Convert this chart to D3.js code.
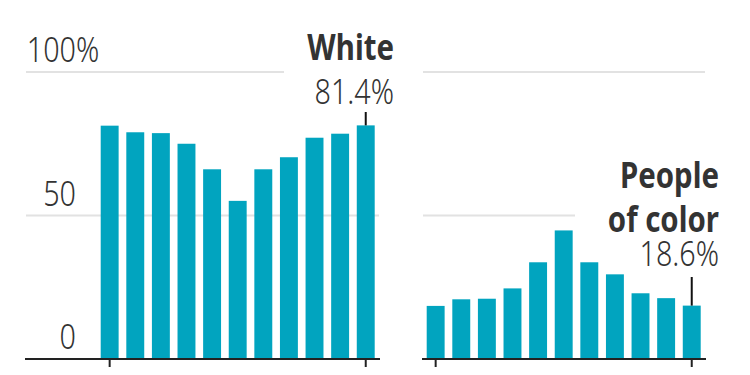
<!DOCTYPE html>
<html>
<head>
<meta charset="utf-8">
<script src="https://cdn.jsdelivr.net/npm/d3@7"></script>
<style>
  body { margin: 0; background: #fff; }
  text { font-family: "Noto Sans", sans-serif; fill: #333; }
</style>
</head>
<body>
<script>
//DATA
var periods = ["1","2","3","4","5","6","7","8","9","10","11"];
var whiteShare = [81.3, 79.0, 78.7, 75.0, 66.1, 55.1, 66.1, 70.3, 77.1, 78.5, 81.4];
var colorShare = [18.5, 20.8, 21.0, 24.6, 33.7, 44.8, 33.7, 29.5, 22.9, 21.2, 18.6];
var yTicks = [0, 50, 100];

//CANVAS
var w = 750, h = 375;
var svg = d3.select("body").append("svg")
  .attr("width", w)
  .attr("height", h);

var barColor = "#01a4bf";

var y = d3.scaleLinear().domain([0, 100]).range([359, 72]);

//helper for squeezed labels (the original type is narrower than Noto)
function label(x, yy, txt, weight, anchor) {
  var squeeze = weight > 500 ? 0.84 : 0.82;
  svg.append("g")
    .attr("transform", "translate(" + x + "," + yy + ") scale(" + squeeze + ",1)")
    .append("text")
    .attr("text-anchor", anchor || "end")
    .style("font-size", "35px")
    .style("font-weight", weight)
    .text(txt);
}

function panel(values, x0, x1, gridLeft, gridRight, cut) {
  var x = d3.scaleBand().domain(periods).range([x0, x1]).paddingInner(0.3).paddingOuter(0);

  //gridlines (some cut short to leave room for the label)
  svg.selectAll(null)
    .data(yTicks.filter(function(d){ return d > 0; }))
    .join("line")
    .attr("x1", gridLeft)
    .attr("x2", function(d){ return cut[d] || gridRight; })
    .attr("y1", function(d){ return y(d); })
    .attr("y2", function(d){ return y(d); })
    .attr("stroke", "#e2e2e2")
    .attr("stroke-width", 2);

  svg.selectAll(null)
    .data(values)
    .join("rect")
    .attr("x", function(d, i){ return x(periods[i]); })
    .attr("y", function(d){ return y(d); })
    .attr("width", x.bandwidth())
    .attr("height", function(d){ return y(0) - y(d); })
    .attr("fill", barColor);

  //baseline
  svg.append("line")
    .attr("x1", gridLeft - 1).attr("x2", gridRight + 1)
    .attr("y1", y(0)).attr("y2", y(0))
    .attr("stroke", "#222").attr("stroke-width", 2);

  //ticks at first and last period
  svg.selectAll(null)
    .data([periods[0], periods[periods.length - 1]])
    .join("line")
    .attr("x1", function(d){ return x(d) + x.bandwidth() / 2; })
    .attr("x2", function(d){ return x(d) + x.bandwidth() / 2; })
    .attr("y1", y(0))
    .attr("y2", y(0) + 8)
    .attr("stroke", "#222")
    .attr("stroke-width", 2);

  var last = periods[periods.length - 1];
  return { cx: x(last) + x.bandwidth() / 2, top: y(values[values.length - 1]) };
}

var left = panel(whiteShare, 100.7, 374.7, 26, 379, {100: 284});
var right = panel(colorShare, 426.7, 700.7, 423, 705, {50: 575});

//y labels
yTicks.forEach(function(d){
  label(76, y(d) - 10, d, 300, "end");
});
label(76, y(100) - 10, "%", 300, "start");

//annotations with leader lines down to the last bar
svg.append("line")
  .attr("x1", left.cx).attr("x2", left.cx)
  .attr("y1", 112).attr("y2", left.top)
  .attr("stroke", "#111").attr("stroke-width", 2);
label(394, 60, "White", 700);
label(394, 104, whiteShare[whiteShare.length - 1] + "%", 300);

svg.append("line")
  .attr("x1", right.cx).attr("x2", right.cx)
  .attr("y1", 277).attr("y2", right.top)
  .attr("stroke", "#111").attr("stroke-width", 2);
label(719, 188, "People", 700);
label(719, 232, "of color", 700);
label(719, 266, colorShare[colorShare.length - 1] + "%", 300);
</script>
</body>
</html>
